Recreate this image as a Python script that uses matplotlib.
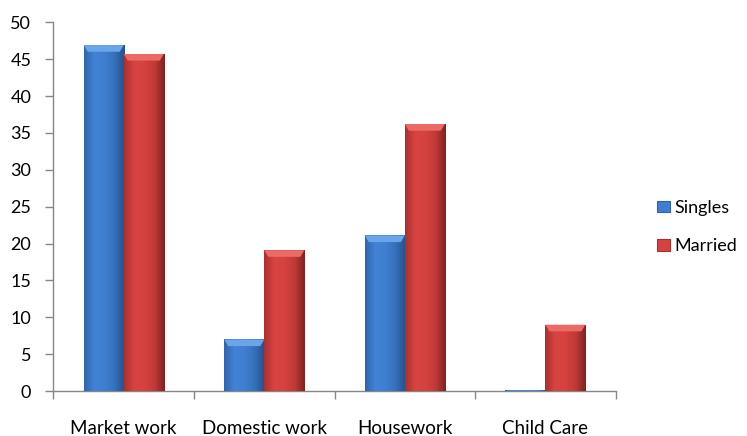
import numpy as np
import matplotlib
matplotlib.use("Agg")
import matplotlib.pyplot as plt
from matplotlib.colors import LinearSegmentedColormap
from matplotlib.patches import Rectangle

categories = ["Market work", "Domestic work", "Housework", "Child Care"]
singles = [46.9, 7.0, 21.1, 0.1]
married = [45.7, 19.1, 36.2, 9.0]
series_names = ["Singles", "Married"]
yticks = [0, 5, 10, 15, 20, 25, 30, 35, 40, 45, 50]

plt.rcParams['font.family'] = ['Lato', 'DejaVu Sans']

fig = plt.figure(figsize=(7.47, 4.36), dpi=100)
ax = fig.add_axes([0.0716, 0.103, 0.7525, 0.846])

x = np.arange(len(categories))
w = 0.285

blue_cmap = LinearSegmentedColormap.from_list("b", ["#2f65a8", "#4283d6", "#3f7fd0", "#3570bb", "#23508a"])
red_cmap = LinearSegmentedColormap.from_list("r", ["#a8302e", "#d84442", "#d5423f", "#c03a37", "#7e2220"])
blue_top = "#6aa5ea"
red_top = "#ec6a66"

def draw_series(xs, vals, cmap, topcol, label):
    bars = ax.bar(xs, vals, width=w, color=cmap(0.5), label=label, zorder=2, linewidth=0)
    grad = np.linspace(0, 1, 256).reshape(1, -1)
    for b in bars:
        x0, y0 = b.get_x(), b.get_y()
        bw, bh = b.get_width(), b.get_height()
        im = ax.imshow(grad, cmap=cmap, aspect='auto', extent=(x0, x0 + bw, y0, y0 + bh),
                       zorder=3, interpolation='bicubic')
        im.set_clip_path(b)
        bev = min(0.9, bh * 0.5)
        inset = bw * 0.1
        poly = plt.Polygon([[x0, y0 + bh], [x0 + bw, y0 + bh], [x0 + bw - inset, y0 + bh - bev],
                            [x0 + inset, y0 + bh - bev]], closed=True, color=topcol, zorder=4, lw=0)
        ax.add_patch(poly)
    return bars

draw_series(x - w / 2, singles, blue_cmap, blue_top, series_names[0])
draw_series(x + w / 2, married, red_cmap, red_top, series_names[1])

ax.set_xlim(-0.5, len(categories) - 0.5)
ax.set_ylim(0, 50)
ax.set_yticks(yticks)
ax.set_xticks(x)
ax.set_xticklabels(categories)
ax.set_xticks(np.arange(len(categories) + 1) - 0.5, minor=True)
ax.tick_params(axis='x', which='major', length=0, pad=21, labelsize=13.5, colors='black')
ax.tick_params(axis='x', which='minor', length=6, color='#868686', width=1)
ax.tick_params(axis='y', length=6, color='#868686', width=1, labelsize=13, pad=10)

for s in ['top', 'right']:
    ax.spines[s].set_visible(False)
for s in ['left', 'bottom']:
    ax.spines[s].set_color('#868686')
    ax.spines[s].set_linewidth(1)

handles = [Rectangle((0, 0), 1, 1, facecolor="#3f7fd0", edgecolor="#2f65a8", lw=0.8),
           Rectangle((0, 0), 1, 1, facecolor="#d5423f", edgecolor="#a8302e", lw=0.8)]
ax.legend(handles, series_names, loc='center left', bbox_to_anchor=(1.045, 0.445), frameon=False,
          fontsize=13, handlelength=0.7, handleheight=0.6, handletextpad=0.25, labelspacing=1.25)

fig.savefig("out.png", dpi=100)
